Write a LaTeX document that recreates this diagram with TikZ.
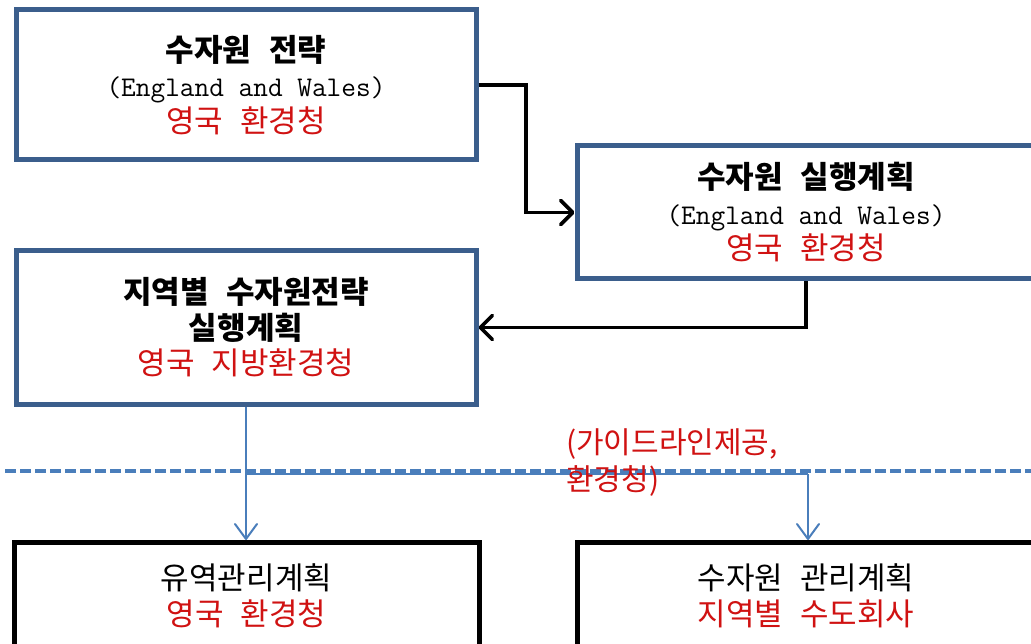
\documentclass[tikz,border=0pt]{standalone}
\usepackage{fontspec}
\usetikzlibrary{arrows.meta}
\newfontfamily\kor[WordSpace=2.5]{Noto Sans CJK KR}
\newcommand\KT{\kor\fontsize{31}{35.5}\selectfont}
\newcommand\ET{\ttfamily\fontsize{28.5}{35.5}\selectfont}
\definecolor{boxblue}{RGB}{59,94,140}
\definecolor{lineblue}{RGB}{74,126,187}
\definecolor{txtred}{RGB}{208,18,18}
\begin{document}
\begin{tikzpicture}[x=1pt,y=-1pt,
  box/.style={draw=boxblue,line width=5pt,rectangle,inner sep=0pt,align=center,fill=white,
    font=\fontsize{31}{35.5}\selectfont},
  blackbox/.style={box,draw=black},
  blkarrow/.style={line width=3.6pt,-{Straight Barb[length=12pt,width=24pt,round]}},
  bluearrow/.style={draw=lineblue,line width=2pt,-{Straight Barb[length=15pt,width=22pt,round]}},
  guideline/.style={draw=lineblue,line width=4pt,dash pattern=on 11pt off 4pt},
  note/.style={inner sep=0pt,align=left,text=txtred,font=\kor\fontsize{30}{37}\selectfont}
]
\useasboundingbox (0,0) rectangle (1031,644);
\fill[white] (0,0) rectangle (1031,644);

\node[box,minimum width=460pt,minimum height=150pt] (b1) at (246,85)
  {{\KT\bfseries 수자원 전략}\\{\ET (England and Wales)}\\{\KT\color{txtred}영국 환경청}};
\node[box,minimum width=458pt,minimum height=133pt] (b2) at (806,212.5)
  {{\KT\bfseries 수자원 실행계획}\\{\ET (England and Wales)}\\{\KT\color{txtred}영국 환경청}};
\node[box,minimum width=460pt,minimum height=153pt] (b3) at (246,327.5)
  {{\KT\bfseries 지역별 수자원전략}\\{\KT\bfseries 실행계획}\\{\KT\color{txtred}영국 지방환경청}};
\node[blackbox,minimum width=465pt,minimum height=107pt] (b4) at (246.5,596)
  {{\KT 유역관리계획}\\{\KT\color{txtred}영국 환경청}};
\node[blackbox,minimum width=458pt,minimum height=107pt] (b5) at (806,596)
  {{\KT 수자원 관리계획}\\{\KT\color{txtred}지역별 수도회사}};

\draw[blkarrow] (b1.east) -- ++(47.5,0) |- (b2.west);
\draw[blkarrow] (b2.south) |- (b3.east);

\coordinate (j1) at (b3.south |- 0,474);
\coordinate (j2) at (808,474);
\draw[draw=lineblue,line width=2pt] (j1) -- (j2);
\draw[bluearrow] (b3.south) -- (b3.south |- b4.north);
\draw[bluearrow] (j2) -- (j2 |- b5.north);

\coordinate (dl) at (5,471);
\coordinate (dr) at (1031,471);
\draw[guideline] (dl) -- (dr);

\node[note,anchor=north west] (guide) at (566,428) {(가이드라인제공,\\환경청)};
\end{tikzpicture}
\end{document}
